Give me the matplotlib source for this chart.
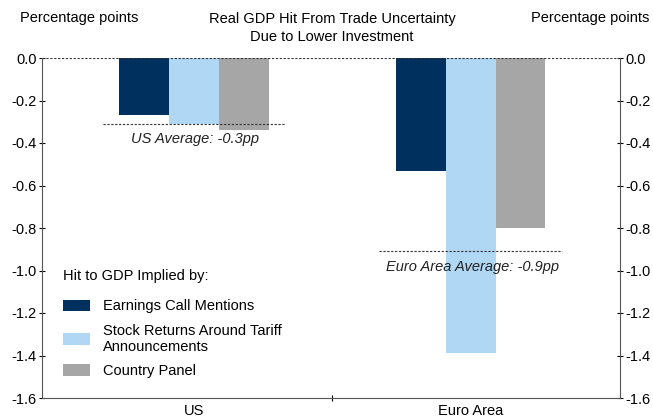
import matplotlib
matplotlib.use('Agg')
import matplotlib.pyplot as plt
import numpy as np

plt.rcParams['font.family'] = ['Liberation Sans', 'DejaVu Sans']
plt.rcParams['axes.unicode_minus'] = False

regions = ['US', 'Euro Area']
series = ['Earnings Call Mentions', 'Stock Returns Around Tariff\nAnnouncements', 'Country Panel']
colors = ['#00305e', '#b0d8f5', '#a6a6a6']
earnings = [-0.27, -0.53]
stock = [-0.31, -1.39]
panel = [-0.34, -0.80]
averages = [-0.31, -0.91]
avg_labels = ['US Average: -0.3pp', 'Euro Area Average: -0.9pp']
yticks = [-1.6, -1.4, -1.2, -1.0, -0.8, -0.6, -0.4, -0.2, 0.0]
ytick_labels = ['-1.6', '-1.4', '-1.2', '-1.0', '-0.8', '-0.6', '-0.4', '-0.2', '0.0']

fs = 10.5
fig = plt.figure(figsize=(6.53, 4.2), dpi=100)
ax = fig.add_axes([42 / 653, 22 / 420, 578 / 653, 340 / 420])

x = np.arange(len(regions))
w = 0.18
for i, (vals, c, lab) in enumerate(zip([earnings, stock, panel], colors, series)):
    ax.bar(x + (i - 1) * w, vals, w, color=c, label=lab)

ax.axhline(0, color='#333333', lw=0.8, ls=(0, (2, 1.5)))
for xi, avg, lab in zip(x, averages, avg_labels):
    ax.hlines(avg, xi - 0.33, xi + 0.33, color='#333333', lw=0.8, ls=(0, (2, 1.5)))
    ax.text(xi + 0.005, avg - 0.04, lab, style='italic', ha='center', va='top', fontsize=fs, color='#222222')

ax.set_xlim(-0.55, 1.54)
ax.set_ylim(-1.6, 0)
ax.set_xticks([0.5])
ax.set_xticklabels([''])
for xi, r in zip(x, regions):
    ax.text(xi, -1.63, r, ha='center', va='top', fontsize=fs)
ax.set_yticks(yticks)
ax.set_yticklabels(ytick_labels)
ax.tick_params(axis='y', labelsize=fs, direction='inout', length=4, right=True, labelright=True, pad=2)
ax.tick_params(axis='x', direction='inout', length=4)
ax.spines['top'].set_visible(False)
for s in ['left', 'right', 'bottom']:
    ax.spines[s].set_color('#555555')
    ax.spines[s].set_linewidth(0.8)

fig.text(20 / 653, 1 - 18 / 420, 'Percentage points', fontsize=fs, va='center')
fig.text(1 - 4 / 653, 1 - 18 / 420, 'Percentage points', fontsize=fs, va='center', ha='right')
fig.text(332 / 653, 1 - 28 / 420, 'Real GDP Hit From Trade Uncertainty\nDue to Lower Investment',
         fontsize=fs, ha='center', va='center', linespacing=1.3)

leg = ax.legend(loc='lower left', bbox_to_anchor=(0.014, 0.02), frameon=False, fontsize=fs,
                title='Hit to GDP Implied by:', title_fontsize=fs, handlelength=1.85,
                handleheight=0.85, labelspacing=0.7, handletextpad=0.9)
leg._legend_box.align = 'left'
leg._legend_box.sep = 12

fig.savefig('out.png', dpi=100)
